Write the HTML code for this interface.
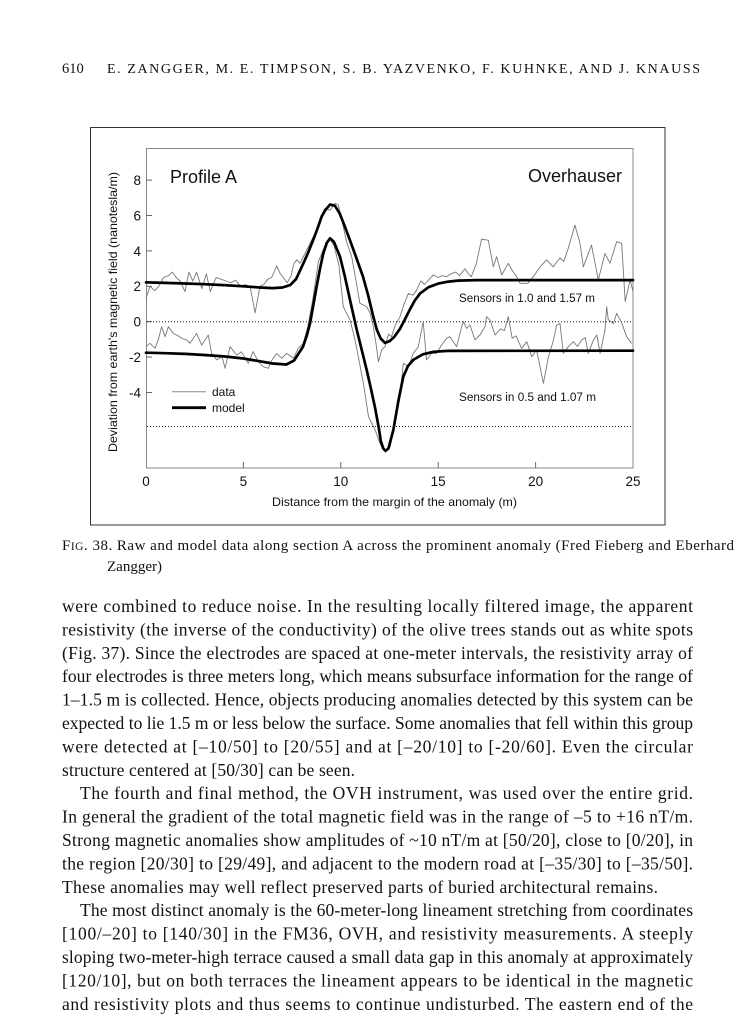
<!DOCTYPE html>
<html>
<head>
<meta charset="utf-8">
<style>
html,body{margin:0;padding:0;background:#fff;}
svg{display:block;}
.serif{font-family:"Liberation Serif","Times New Roman",serif;fill:#111;}
.sans{font-family:"Liberation Sans",Arial,sans-serif;fill:#111;}
</style>
</head>
<body>
<svg width="755" height="1024" viewBox="0 0 755 1024" xmlns="http://www.w3.org/2000/svg">
<rect x="0" y="0" width="755" height="1024" fill="#fff"/>

<!-- Running head -->
<text class="serif" x="62" y="73" font-size="14.5">610</text>
<text class="serif" x="107" y="73" font-size="14" textLength="593" lengthAdjust="spacing">E. ZANGGER, M. E. TIMPSON, S. B. YAZVENKO, F. KUHNKE, AND J. KNAUSS</text>

<!-- Figure frame -->
<rect x="90.5" y="127.5" width="574.5" height="397.5" fill="none" stroke="#333" stroke-width="1"/>

<!-- Plot box -->
<rect x="146.5" y="148.5" width="486.5" height="319.5" fill="none" stroke="#888" stroke-width="1"/>

<!-- y ticks -->
<g stroke="#666" stroke-width="1">
<line x1="146" y1="180.1" x2="152" y2="180.1"/>
<line x1="146" y1="215.5" x2="152" y2="215.5"/>
<line x1="146" y1="250.9" x2="152" y2="250.9"/>
<line x1="146" y1="286.3" x2="152" y2="286.3"/>
<line x1="146" y1="321.7" x2="152" y2="321.7"/>
<line x1="146" y1="357.1" x2="152" y2="357.1"/>
<line x1="146" y1="392.5" x2="152" y2="392.5"/>
<!-- x ticks -->
<line x1="243.4" y1="468" x2="243.4" y2="462"/>
<line x1="340.8" y1="468" x2="340.8" y2="462"/>
<line x1="438.2" y1="468" x2="438.2" y2="462"/>
<line x1="535.6" y1="468" x2="535.6" y2="462"/>
</g>

<!-- y tick labels -->
<g class="sans" font-size="13.5" text-anchor="end">
<text x="141" y="185">8</text>
<text x="141" y="220.4">6</text>
<text x="141" y="255.8">4</text>
<text x="141" y="291.2">2</text>
<text x="141" y="326.6">0</text>
<text x="141" y="362">-2</text>
<text x="141" y="397.4">-4</text>
</g>
<!-- x tick labels -->
<g class="sans" font-size="13.5" text-anchor="middle">
<text x="146" y="486">0</text>
<text x="243.4" y="486">5</text>
<text x="340.8" y="486">10</text>
<text x="438.2" y="486">15</text>
<text x="535.6" y="486">20</text>
<text x="633" y="486">25</text>
</g>

<!-- axis titles -->
<text class="sans" x="272" y="506" font-size="12" textLength="245" lengthAdjust="spacingAndGlyphs">Distance from the margin of the anomaly (m)</text>
<text class="sans" font-size="12" transform="translate(117,452) rotate(-90)" textLength="280" lengthAdjust="spacingAndGlyphs">Deviation from earth's magnetic field (nanotesla/m)</text>

<!-- in-plot labels -->
<text class="sans" x="170" y="183" font-size="18">Profile A</text>
<text class="sans" x="622" y="182" font-size="18" text-anchor="end">Overhauser</text>
<text class="sans" x="459" y="302" font-size="11.5" textLength="136" lengthAdjust="spacingAndGlyphs">Sensors in 1.0 and 1.57 m</text>
<text class="sans" x="459" y="401" font-size="11.5" textLength="137" lengthAdjust="spacingAndGlyphs">Sensors in 0.5 and 1.07 m</text>

<!-- dotted reference lines -->
<g stroke="#111" stroke-width="1" stroke-dasharray="1 2">
<line x1="147" y1="321.7" x2="633" y2="321.7"/>
<line x1="147" y1="426.5" x2="633" y2="426.5"/>
</g>

<!-- legend -->
<line x1="172" y1="391.7" x2="206" y2="391.7" stroke="#888" stroke-width="1"/>
<line x1="172" y1="407.7" x2="206" y2="407.7" stroke="#000" stroke-width="2.8"/>
<text class="sans" x="212" y="396" font-size="12">data</text>
<text class="sans" x="212" y="412" font-size="12">model</text>

<!-- data series -->
<g fill="none" stroke="#777" stroke-width="0.9" stroke-linejoin="round">
<polyline points="146.0,298.3 149.9,286.3 154.8,290.7 158.7,286.3 163.5,277.5 168.4,275.7 172.3,272.1 176.2,277.5 180.1,281.0 185.0,291.6 188.9,272.1 192.8,281.0 196.6,272.1 201.9,288.6 206.4,273.9 210.3,291.6 216.1,277.5 221.0,279.2 225.9,281.0 230.7,282.8 235.6,280.1 240.5,286.3 245.3,284.5 250.2,287.2 255.1,312.9 260.0,286.3 263.9,284.5 267.8,279.2 271.6,277.5 276.7,265.9 280.4,273.9 283.3,277.5 287.2,282.8 291.1,275.7 294.0,263.3 296.8,259.8 299.9,263.3 305.0,253.4 310.0,243.3 315.1,233.2 320.0,219.9 325.0,208.4 330.1,210.2 335.0,203.3 338.3,204.9 343.3,226.7 346.6,242.0 351.7,256.7 355.4,277.5 359.9,303.3 363.2,304.9 366.7,306.7 370.0,312.9 373.3,326.7 375.9,342.9 378.4,361.7 381.7,350.0 385.0,346.7 388.5,334.1 391.4,336.7 395.3,325.2 400.0,316.7 404.1,304.0 408.4,293.4 412.9,295.2 416.8,289.8 420.7,281.0 424.6,284.5 430.0,278.3 433.3,275.0 438.2,277.5 442.1,275.7 446.6,276.7 450.9,273.9 455.7,272.1 459.6,275.7 464.9,268.6 468.4,273.9 471.3,276.7 476.4,263.3 481.6,239.0 488.3,240.3 493.3,266.8 496.6,256.7 501.7,275.0 508.3,263.3 512.2,270.4 516.7,276.7 520.0,283.3 527.8,283.3 533.3,276.7 540.1,266.8 546.7,259.8 553.1,266.8 560.0,258.0 563.8,261.5 568.3,248.2 574.9,225.1 580.0,243.3 583.3,266.8 591.5,245.1 598.3,279.9 605.0,253.4 610.0,263.3 616.6,241.7 621.7,243.3 625.2,301.7 630.1,279.9 633.0,291.6"/>
<polyline points="146.0,346.7 149.9,343.3 155.0,348.3 158.3,339.9 161.6,326.7 165.1,336.7 168.4,326.7 173.3,333.4 178.1,335.9 182.0,338.5 186.7,339.9 190.0,343.3 196.6,333.4 201.7,345.1 208.3,335.0 211.6,353.4 216.7,359.9 222.0,356.7 225.1,368.3 230.0,346.7 236.8,355.0 241.5,351.8 248.3,363.3 253.1,351.6 258.4,361.7 263.3,366.7 268.3,368.3 271.6,360.6 276.7,353.4 281.8,358.3 286.6,353.4 293.5,358.3 298.3,348.3 303.2,343.3 307.7,327.0 312.6,300.5 318.4,261.7 321.7,253.4 326.2,242.0 330.1,239.4 334.0,245.6 338.9,265.1 343.3,306.7 346.6,313.4 350.0,319.9 355.0,339.9 358.3,356.7 363.4,383.3 368.5,416.7 371.8,423.3 375.1,430.0 380.0,443.3 383.3,450.0 386.6,450.9 390.1,446.7 395.0,423.3 400.0,396.7 403.3,363.3 408.4,366.7 413.3,353.4 418.3,346.7 423.2,321.7 426.5,359.9 431.6,353.4 436.6,353.4 441.5,345.1 446.6,338.3 449.9,336.7 456.7,346.7 461.6,326.7 463.5,321.7 466.6,328.4 470.0,325.1 475.0,339.9 479.9,335.0 485.0,326.7 486.5,316.7 490.0,319.9 495.1,335.0 500.5,328.8 504.4,330.6 508.3,316.7 512.2,338.3 516.1,335.9 521.6,348.3 526.8,341.7 531.7,356.7 536.6,350.0 543.4,383.3 548.5,356.7 553.5,339.9 556.6,325.1 560.0,323.5 563.3,353.4 568.3,346.7 573.4,341.7 577.5,346.5 581.8,339.9 585.3,337.6 588.2,353.4 593.5,339.9 596.8,335.0 600.1,353.4 605.0,330.0 606.7,306.7 608.3,319.9 613.5,323.5 616.6,313.4 621.3,321.7 626.6,336.7 631.6,343.3"/>
</g>

<!-- model curves -->
<g fill="none" stroke="#000" stroke-width="2.7" stroke-linejoin="round" stroke-linecap="round">
<polyline points="146,282.4 165.5,282.9 185.0,283.5 204.4,284.2 223.9,285.1 243.4,286.3 260.0,287.5 272.6,288.1 282.4,287.5 290.2,285.1 296.0,279.2 303.0,264.2 307.7,253.6 313.1,240.3 317.4,228.8 321.7,216.4 325.2,210.2 330.1,204.5 335.0,205.8 339.8,213.7 344.7,226.1 350.0,240.3 356.4,258.0 363.0,276.7 368.1,295.2 373.0,315.5 376.8,329.7 380.7,338.5 385.0,342.9 389.5,341.2 394.4,336.7 400.0,328.8 405.1,319.0 410.0,309.3 414.8,300.5 420.1,293.4 428.5,287.2 438.2,283.6 446.6,281.9 457.7,280.6 477.2,280.1 633,280.1"/>
<polyline points="146,352.7 165.5,353.2 185.0,353.9 204.4,355.0 223.9,356.4 243.4,358.5 260.0,361.3 272.6,363.5 286.3,364.5 294.0,360.6 303.0,346.7 306.7,335.9 310.0,323.5 313.5,304.0 316.6,286.7 320.0,268.6 323.3,253.4 326.8,242.9 330.1,238.3 334.0,242.0 340.0,256.7 344.7,275.7 350.0,299.9 356.8,330.0 362.2,351.8 366.7,370.0 371.0,389.0 375.1,408.0 378.8,427.9 380.9,441.5 383.3,448.5 385.6,450.9 388.5,448.4 393.4,429.7 398.3,401.4 403.3,376.6 408.0,366.0 413.3,359.9 422.6,354.4 433.3,351.8 447.9,350.9 633,350.7"/>
</g>

<!-- Caption -->
<text class="serif" x="62" y="550" font-size="15" textLength="672" lengthAdjust="spacing">F<tspan font-size="11.5">IG</tspan>. 38. Raw and model data along section A across the prominent anomaly (Fred Fieberg and Eberhard</text>
<text class="serif" x="107" y="571" font-size="15">Zangger)</text>

<!-- Body text -->
<g class="serif" font-size="17.5">
<text x="62" y="612" textLength="631" lengthAdjust="spacing">were combined to reduce noise.  In the resulting locally filtered image, the apparent</text>
<text x="62" y="635.4" textLength="631" lengthAdjust="spacing">resistivity (the inverse of the conductivity) of the olive trees stands out as white spots</text>
<text x="62" y="658.8" textLength="631" lengthAdjust="spacing">(Fig. 37).  Since the electrodes are spaced at one-meter intervals, the resistivity array of</text>
<text x="62" y="682.2" textLength="631" lengthAdjust="spacing">four electrodes is three meters long, which means subsurface information for the range of</text>
<text x="62" y="705.6" textLength="631" lengthAdjust="spacing">1–1.5 m is collected.  Hence, objects producing anomalies detected by this system can be</text>
<text x="62" y="729" textLength="631" lengthAdjust="spacing">expected to lie 1.5 m or less below the surface.  Some anomalies that fell within this group</text>
<text x="62" y="752.4" textLength="631" lengthAdjust="spacing">were detected at [–10/50] to [20/55] and at [–20/10] to [-20/60].  Even the circular</text>
<text x="62" y="775.8" textLength="293" lengthAdjust="spacing">structure centered at [50/30] can be seen.</text>
<text x="80" y="799.2" textLength="613" lengthAdjust="spacing">The fourth and final method, the OVH instrument, was used over the entire grid.</text>
<text x="62" y="822.6" textLength="631" lengthAdjust="spacing">In general the gradient of the total magnetic field was in the range of –5 to +16 nT/m.</text>
<text x="62" y="846" textLength="631" lengthAdjust="spacing">Strong magnetic anomalies show amplitudes of ~10 nT/m at [50/20], close to [0/20], in</text>
<text x="62" y="869.4" textLength="631" lengthAdjust="spacing">the region [20/30] to [29/49], and adjacent to the modern road at [–35/30] to [–35/50].</text>
<text x="62" y="892.8" textLength="596" lengthAdjust="spacing">These anomalies may well reflect preserved parts of buried architectural remains.</text>
<text x="80" y="916.2" textLength="613" lengthAdjust="spacing">The most distinct anomaly is the 60-meter-long lineament stretching from coordinates</text>
<text x="62" y="939.6" textLength="631" lengthAdjust="spacing">[100/–20] to [140/30] in the FM36, OVH, and resistivity measurements.  A steeply</text>
<text x="62" y="963" textLength="631" lengthAdjust="spacing">sloping two-meter-high terrace caused a small data gap in this anomaly at approximately</text>
<text x="62" y="986.4" textLength="631" lengthAdjust="spacing">[120/10], but on both terraces the lineament appears to be identical in the magnetic</text>
<text x="62" y="1009.8" textLength="631" lengthAdjust="spacing">and resistivity plots and thus seems to continue undisturbed.  The eastern end of the</text>
</g>
</svg>
</body>
</html>
